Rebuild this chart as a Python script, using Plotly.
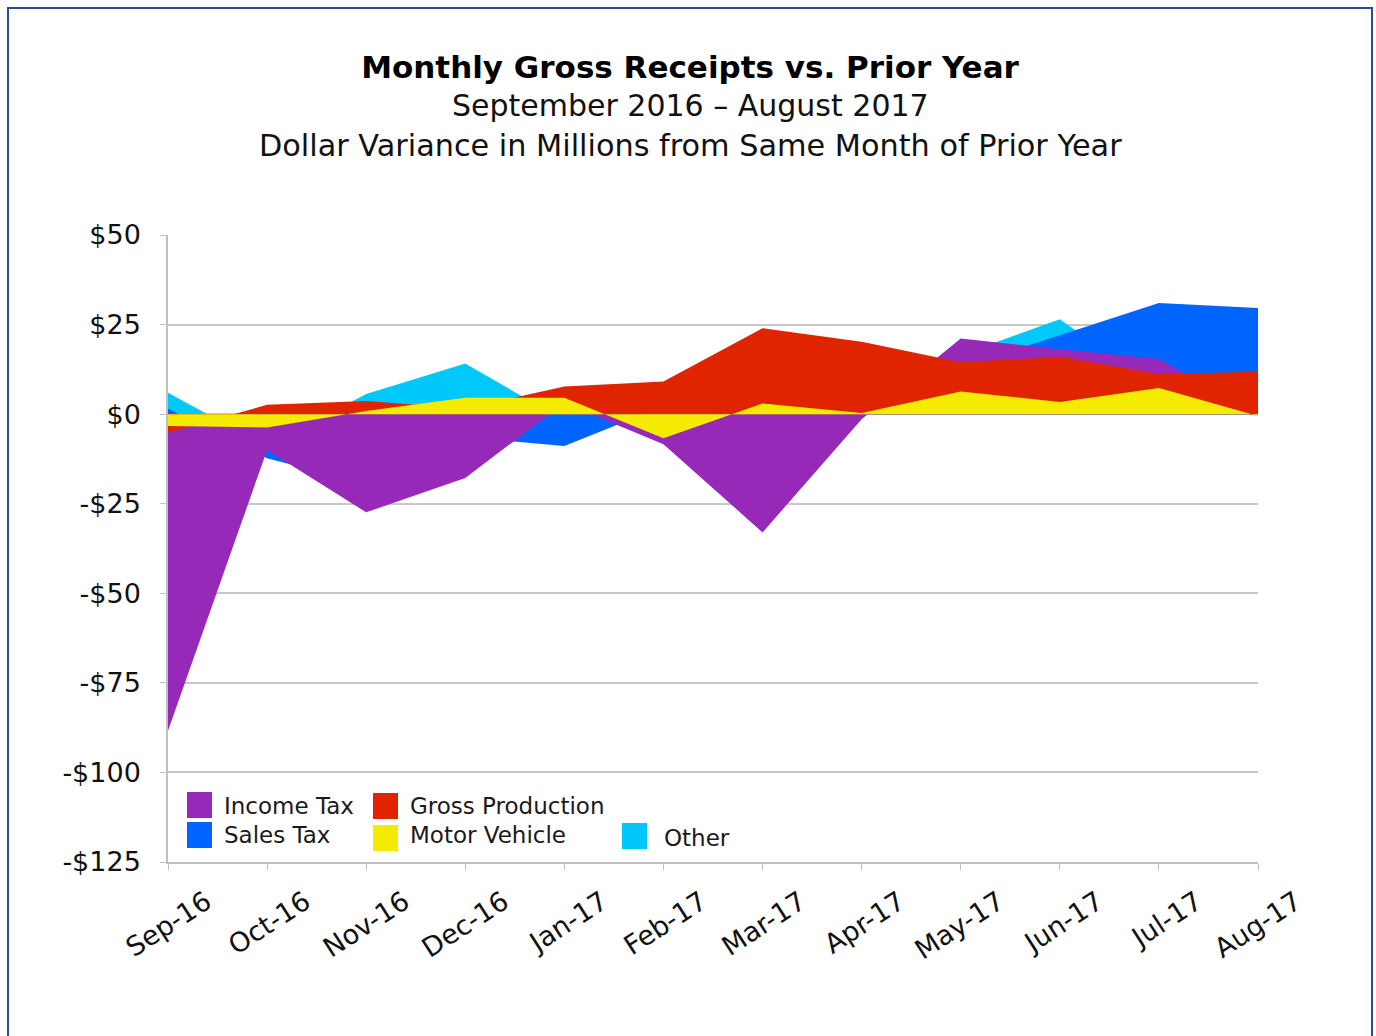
import plotly.graph_objects as go

# ---------------- data ----------------
months = ["Sep-16", "Oct-16", "Nov-16", "Dec-16", "Jan-17", "Feb-17",
          "Mar-17", "Apr-17", "May-17", "Jun-17", "Jul-17", "Aug-17"]
income_tax = [-88.4, -10.0, -27.4, -17.8, 3.1, -8.4, -33.0, -1.4, 21.1, 18.1, 15.4, 0.0]
sales_tax = [1.5, -12.3, -19.5, -6.4, -8.9, 2.2, 5.0, 8.0, 13.1, 22.0, 31.0, 29.6]
gross_production = [-5.1, 2.6, 3.7, 1.6, 7.7, 9.1, 24.0, 20.2, 14.5, 16.0, 11.2, 11.8]
motor_vehicle = [-3.3, -3.7, 0.9, 4.6, 4.6, -6.7, 3.0, 0.3, 6.3, 3.4, 7.3, -0.5]
other = [6.0, -9.0, 5.6, 14.1, -1.8, 3.0, 6.0, 9.0, 16.5, 26.5, 7.0, 4.0]

y_tick_vals = [50, 25, 0, -25, -50, -75, -100, -125]
y_tick_text = ["$50", "$25", "$0", "-$25", "-$50", "-$75", "-$100", "-$125"]

title_main = "Monthly Gross Receipts vs. Prior Year"
subtitle_1 = "September 2016 \u2013 August 2017"
subtitle_2 = "Dollar Variance in Millions from Same Month of Prior Year"

# ---------------- style ----------------
FONT = "DejaVu Sans"
COL = {
    "Income Tax": "#9729B9",
    "Sales Tax": "#0064FF",
    "Gross Production": "#E02400",
    "Motor Vehicle": "#F5EB00",
    "Other": "#00C8FA",
}

W, H = 1376, 1036
PL, PR, PT, PB = 168, 1258, 235, 862  # plot area in pixels


def px_x(px):
    return (px - PL) / (PR - PL)


def px_y(py):
    return (PB - py) / (PB - PT)


fig = go.Figure()

# drawing order: back -> front
series = [("Other", other), ("Sales Tax", sales_tax), ("Income Tax", income_tax),
          ("Gross Production", gross_production), ("Motor Vehicle", motor_vehicle)]
for name, vals in series:
    fig.add_trace(go.Scatter(
        x=months, y=vals, name=name, mode="none", fill="tozeroy",
        fillcolor=COL[name], showlegend=False,
        hovertemplate="%{x}: %{y}<extra>" + name + "</extra>",
    ))

# ---------------- manual legend ----------------
legend_items = [
    ("Income Tax", 187, 792, 222, 806),
    ("Sales Tax", 187, 822, 222, 835),
    ("Gross Production", 373, 793, 408, 806),
    ("Motor Vehicle", 373, 825, 408, 835),
    ("Other", 622, 823, 662, 838),
]
shapes = []
annotations = []
for name, bx, by, tx, ty in legend_items:
    shapes.append(dict(type="rect", xref="paper", yref="paper",
                       x0=px_x(bx), x1=px_x(bx + 25), y0=px_y(by + 26), y1=px_y(by),
                       fillcolor=COL[name], line=dict(width=0)))
    annotations.append(dict(text=name, xref="paper", yref="paper",
                            x=px_x(tx), y=px_y(ty), xanchor="left", yanchor="middle",
                            showarrow=False, font=dict(family=FONT, size=23, color="#1a1a1a")))

# outer frame
shapes.append(dict(type="rect", xref="paper", yref="paper",
                   x0=px_x(8), x1=px_x(1372), y0=px_y(1060), y1=px_y(8),
                   line=dict(color="#2E4B9B", width=2), fillcolor="rgba(0,0,0,0)", layer="below"))

# subtitles
annotations.append(dict(text=subtitle_1, xref="paper", yref="paper",
                        x=px_x(690), y=px_y(106), xanchor="center", yanchor="middle",
                        showarrow=False, font=dict(family=FONT, size=30, color="#111111")))
annotations.append(dict(text=subtitle_2, xref="paper", yref="paper",
                        x=px_x(690), y=px_y(146), xanchor="center", yanchor="middle",
                        showarrow=False, font=dict(family=FONT, size=30.3, color="#111111")))

fig.update_layout(
    width=W, height=H,
    margin=dict(l=PL, r=W - PR, t=PT, b=H - PB, pad=0),
    paper_bgcolor="white", plot_bgcolor="white",
    font=dict(family=FONT, color="#111111"),
    title=dict(text=f"<b>{title_main}</b>", x=690 / W, xanchor="center",
               y=1 - 67 / H, yanchor="middle",
               font=dict(family=FONT, size=31, color="#000000")),
    shapes=shapes, annotations=annotations,
    showlegend=False,
)

fig.update_xaxes(
    type="category", categoryorder="array", categoryarray=months,
    range=[0, len(months) - 1],
    showgrid=False, showline=True, linecolor="#BFBFBF", linewidth=1.5,
    ticks="outside", ticklen=6, tickcolor="#BFBFBF", tickwidth=1,
    tickangle=-33, tickfont=dict(family=FONT, size=27, color="#111111"),
    ticklabelshift=38, ticklabelstandoff=6,
)
fig.update_yaxes(
    range=[-125, 50], tickvals=y_tick_vals, ticktext=y_tick_text,
    showgrid=True, gridcolor="#C8C8C8", gridwidth=1.5, zeroline=False,
    showline=True, linecolor="#BFBFBF", linewidth=1.5,
    ticks="outside", ticklen=6, tickcolor="#BFBFBF",
    tickfont=dict(family=FONT, size=27, color="#111111"), ticklabelstandoff=14,
)

fig.write_html("out.html", config={"displayModeBar": False},
               post_script="document.body.style.margin='0';document.body.style.overflow='hidden';")
